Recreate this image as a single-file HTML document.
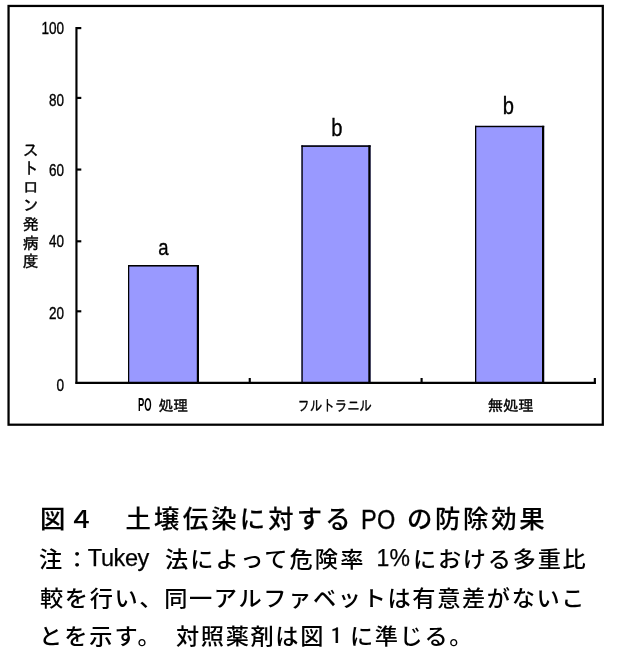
<!DOCTYPE html>
<html lang="ja">
<head>
<meta charset="utf-8">
<title>図４ 土壌伝染に対する PO の防除効果</title>
<style>
html,body{margin:0;padding:0;background:#fff;}
body{width:618px;height:667px;position:relative;overflow:hidden;color:#000;}
#chart{position:absolute;left:0;top:0;width:618px;height:440px;}
#chart text{font-family:"Liberation Sans","IPAGothic",sans-serif;fill:#000;stroke:#000;stroke-width:0.35px;}
.ylab{position:absolute;left:21.8px;top:141.7px;width:18px;text-align:center;
  font-family:"Liberation Sans","IPAGothic",sans-serif;font-size:16px;line-height:18.6px;-webkit-text-stroke:0.4px #000;}
.cap{position:absolute;left:0;width:618px;height:38px;white-space:nowrap;
  font-family:"Liberation Sans","Noto Sans CJK JP",sans-serif;line-height:38px;}
.cap>span{position:absolute;top:0;white-space:pre;}
.g{font-family:"Liberation Sans","IPAGothic",sans-serif;font-weight:400;-webkit-text-stroke:0.3px #000;}
.t{font-size:24.5px;font-weight:500;-webkit-text-stroke:0.15px #000;}
.n{font-size:21.7px;font-weight:500;}
</style>
</head>
<body>
<svg id="chart" width="618" height="440" viewBox="0 0 618 440">
  <!-- outer frame -->
  <rect x="8.55" y="5.95" width="594.25" height="418.75" fill="#fff" stroke="#000" stroke-width="2.25"/>
  <!-- bars -->
  <g fill="#9999ff">
    <rect x="128" y="265" width="71" height="118"/>
    <rect x="301.4" y="145.3" width="69.2" height="237.7"/>
    <rect x="475" y="125.8" width="69.2" height="257.2"/>
  </g>
  <g fill="#000">
    <rect x="128" y="265" width="1.25" height="118"/>
    <rect x="128" y="265" width="71" height="1.55"/>
    <rect x="196.8" y="265" width="2.2" height="118"/>
    <rect x="301.4" y="145.3" width="1.35" height="237.7"/>
    <rect x="301.4" y="145.3" width="69.2" height="1.6"/>
    <rect x="368.3" y="145.3" width="2.3" height="237.7"/>
    <rect x="475" y="125.8" width="1.3" height="257.2"/>
    <rect x="475" y="125.8" width="69.2" height="1.4"/>
    <rect x="542" y="125.8" width="2.2" height="257.2"/>
  </g>
  <!-- axes -->
  <g stroke="#000" stroke-width="2.15" fill="none">
    <path d="M76.45 27.05 V383.8"/>
    <path d="M75.4 382.8 H595.9"/>
    <path d="M76.45 28.1 H81.3"/>
    <path d="M76.45 97.9 H81.3"/>
    <path d="M76.45 169.55 H81.3"/>
    <path d="M76.45 241.3 H81.3"/>
    <path d="M76.45 311.3 H81.3"/>
    <path d="M249.75 378 V383"/>
    <path d="M421.6 378 V383"/>
    <path d="M594.85 378 V383.8"/>
  </g>
  <!-- y tick labels -->
  <g font-size="16.5" text-anchor="end">
    <text x="64" y="34" textLength="22.6" lengthAdjust="spacingAndGlyphs">100</text>
    <text x="64" y="105.5" textLength="15" lengthAdjust="spacingAndGlyphs">80</text>
    <text x="64" y="176" textLength="15" lengthAdjust="spacingAndGlyphs">60</text>
    <text x="64" y="247.2" textLength="15" lengthAdjust="spacingAndGlyphs">40</text>
    <text x="64" y="318.5" textLength="15" lengthAdjust="spacingAndGlyphs">20</text>
    <text x="64" y="391" textLength="7.6" lengthAdjust="spacingAndGlyphs">0</text>
  </g>
  <!-- letters above bars -->
  <g font-size="22" text-anchor="middle" stroke-width="0.2">
    <text x="163.4" y="255" font-size="21.2" textLength="10.3" lengthAdjust="spacingAndGlyphs">a</text>
    <text x="336.8" y="135.7" font-size="23" textLength="11.2" lengthAdjust="spacingAndGlyphs">b</text>
    <text x="508.3" y="113.8" font-size="23" textLength="11.2" lengthAdjust="spacingAndGlyphs">b</text>
  </g>
  <!-- category labels -->
  <g font-size="15">
    <text y="410.8"><tspan x="137.9" font-size="18.6" font-weight="bold" stroke-width="0" textLength="13.6" lengthAdjust="spacingAndGlyphs">PO</tspan><tspan x="151"> </tspan><tspan x="158.5" textLength="29.5" lengthAdjust="spacingAndGlyphs">処理</tspan></text>
    <text x="297.6" y="410.8" textLength="74.4" lengthAdjust="spacingAndGlyphs">フルトラニル</text>
    <text x="487.7" y="410.8" textLength="46" lengthAdjust="spacingAndGlyphs">無処理</text>
  </g>
</svg>
<div class="ylab">ス<br>ト<br>ロ<br>ン<br>発<br>病<br>度</div>

<div class="cap t" style="top:500.9px"><span style="left:40px;letter-spacing:3.065px;transform:scaleX(1.035);transform-origin:0 50%;">図４　土壌伝染に対する </span><span style="left:361.3px;letter-spacing:0.3px;font-size:27px;top:-0.3px;transform:scaleX(0.87);transform-origin:0 50%;-webkit-text-stroke:0.4px #000;">PO </span><span style="left:406.8px;letter-spacing:2.601px;transform:scaleX(1.035);transform-origin:0 50%;">の防除効果</span></div>
<div class="cap n" style="top:540.5px"><span style="left:38.8px;letter-spacing:2.973px;transform:scaleX(1.07);transform-origin:0 50%;">注：</span><span style="left:87.8px;letter-spacing:-0.4px;font-size:23.5px;top:-1.8px;-webkit-text-stroke:0.25px #000;">Tukey </span><span style="left:164.6px;letter-spacing:1.945px;transform:scaleX(1.07);transform-origin:0 50%;">法によって危険率 </span><span style="left:376.6px;letter-spacing:0px;font-size:23px;top:-1.4px;-webkit-text-stroke:0.25px #000;">1%</span><span style="left:412.5px;letter-spacing:1.618px;transform:scaleX(1.07);transform-origin:0 50%;">における多重比</span></div>
<div class="cap n" style="top:579.5px"><span style="left:39.6px;letter-spacing:1.524px;transform:scaleX(1.07);transform-origin:0 50%;">較を行い、同一アルファベットは有意差がないこ</span></div>
<div class="cap n" style="top:617.5px"><span style="left:39px;letter-spacing:1.851px;transform:scaleX(1.07);transform-origin:0 50%;">とを示す。 </span><span style="left:175.7px;letter-spacing:1.524px;transform:scaleX(1.07);transform-origin:0 50%;">対照薬剤は図<span class="g">１</span>に準じる。</span></div>
</body>
</html>
